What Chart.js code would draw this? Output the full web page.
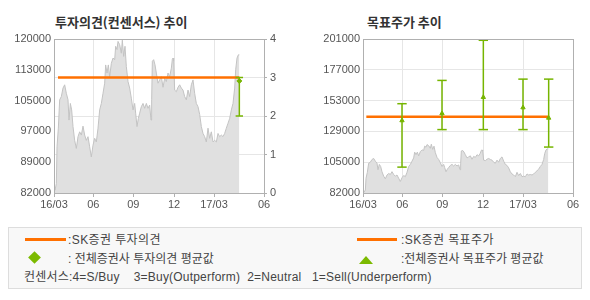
<!DOCTYPE html>
<html>
<head>
<meta charset="utf-8">
<script src="https://cdn.jsdelivr.net/npm/chart.js@4/dist/chart.umd.min.js"></script>
<style>
body { margin: 0; width: 590px; height: 300px; background: #fff; position: relative; overflow: hidden;
  font-family: "Liberation Sans", "Noto Sans CJK KR", sans-serif; }
.title { position: absolute; top: 12px; font: bold 13px "Noto Sans CJK KR", sans-serif; color: #333; white-space: nowrap; }
canvas { position: absolute; top: 0; }
#legend { position: absolute; left: 8px; top: 227px; width: 572px; height: 60px; background: #f8f8f8; border: 1px solid #ddd; }
#legend .t { position: absolute; font-size: 12px; line-height: 14px; color: #444; white-space: nowrap; }
#legend .ln { position: absolute; height: 3px; background: #ff7000; }
#legend .dia { position: absolute; width: 9px; height: 9px; background: #7cba00; transform: rotate(45deg); }
#legend .tri { position: absolute; width: 0; height: 0; border-left: 7px solid transparent; border-right: 7px solid transparent; border-bottom: 8px solid #7cba00; }
</style>
</head>
<body>
<div class="title" style="left:55px">투자의견(컨센서스) 추이</div>
<div class="title" style="left:367px">목표주가 추이</div>
<canvas id="opinion" width="295" height="215" style="left:0"></canvas>
<canvas id="target" width="295" height="215" style="left:295px"></canvas>
<div id="legend">
  <div class="ln" style="left:16px;top:10px;width:41px"></div>
  <div class="t" style="left:59px;top:5px;letter-spacing:0.4px">:SK증권 투자의견</div>
  <div class="ln" style="left:348px;top:10px;width:40px"></div>
  <div class="t" style="left:392px;top:5px;letter-spacing:0.4px">:SK증권 목표주가</div>
  <div class="dia" style="left:21px;top:25px"></div>
  <div class="t" style="left:59px;top:24px">: 전체증권사 투자의견 평균값</div>
  <div class="tri" style="left:350px;top:28px"></div>
  <div class="t" style="left:392px;top:24px">:전체증권사 목표주가 평균값</div>
  <div class="t" style="left:15px;top:42px;font-size:12px;letter-spacing:0.2px">컨센서스:4=S/Buy&nbsp;&nbsp;&nbsp;&nbsp;3=Buy(Outperform)&nbsp;&nbsp;2=Neutral&nbsp;&nbsp;&nbsp;1=Sell(Underperform)</div>
</div>
<script>
// x axis is in trading days from 16/03
const tickDays = [0, 59, 119, 180, 240, 315];
const tickLabels = ['16/03', '06', '09', '12', '17/03', '06'];

// share price (same series in both charts)
const priceDays = [0, 1.5, 3.5, 4.5, 6.5, 8.5, 11, 13.5, 16, 18.5, 21, 22.5, 24.5, 26.5, 28.5, 31, 33.5, 36, 38.5, 41,
  43.5, 46, 48.5, 51, 53.5, 56, 58.5, 61, 63.5, 66, 68.5, 71, 73.5, 76, 77.5, 79.5, 81.5, 83.5, 86, 88.5,
  91, 92.5, 94.5, 96, 98.5, 101, 102.5, 104.5, 106.5, 108.5, 111, 113.5, 116, 118.5, 121, 122.5, 124.5, 126.5, 128.5, 131,
  133.5, 136, 138.5, 141, 143.5, 145.5, 146.5, 147.5, 149.5, 151.5, 153.5, 156, 158.5, 161, 163.5, 166, 168.5, 171, 173.5, 176,
  177.5, 178.5, 179.5, 181, 183.5, 186, 188.5, 191, 193.5, 196, 198.5, 201, 203.5, 206, 208.5, 211, 213.5, 216, 218.5, 221,
  223.5, 226, 228.5, 231, 233.5, 236, 238.5, 241, 243.5, 246, 248.5, 251, 253.5, 256, 258.5, 261, 263.5, 266, 268.5, 271,
  272.5, 274.5, 276.5, 278];
const priceValues = [84700, 82700, 84300, 93400, 98000, 105000, 105800, 107900, 108700, 106600, 105000, 100000, 104100, 102500, 98400, 95000, 93000, 95900, 97100, 96300,
  98500, 96300, 95000, 95900, 93400, 90900, 93800, 95500, 94600, 98000, 102500, 104100, 106600, 109100, 113600, 111600, 113600, 110700, 114000, 115300,
  114900, 118200, 117400, 119400, 118600, 116500, 119700, 115700, 118200, 113200, 109500, 107900, 105400, 102500, 104100, 101700, 98400, 100400, 101700, 103300,
  104100, 102900, 104100, 102900, 103700, 100000, 105000, 114500, 114900, 113600, 111600, 109100, 109900, 110700, 108100, 110300, 109500, 111600, 110700, 112800,
  115000, 115300, 114500, 107400, 107000, 108100, 108700, 107900, 107400, 105800, 105000, 107400, 105800, 108700, 109900, 106600, 104100, 103300, 101400, 98400,
  96700, 95900, 94600, 98000, 95500, 97100, 94600, 95000, 94600, 96700, 95900, 96300, 95900, 96700, 98000, 99200, 100400, 102500, 104100, 107900,
  112400, 115300, 116100, 116100];

// investment opinion (right axis 0-4)
const skOpinionDays = [6, 278];
const skOpinion = [3, 3];
const consOpinionDay = 278;
const consOpinionHigh = 3;
const consOpinionLow = 2;
const consOpinionAvg = 2.91;

// target price
const skTargetDays = [5, 278.5];
const skTarget = [141000, 141000];
const consTargetDays = [58.5, 118.5, 180.5, 240, 278.5];
const consTargetHigh = [151000, 169000, 200000, 170000, 170000];
const consTargetLow = [102000, 131000, 131000, 131000, 117500];
const consTargetAvg = [138000, 143500, 156000, 148000, 140000];

// y axis ticks
const opinionPriceTicks = [82000, 89600, 97200, 104800, 112400, 120000];
const opinionPriceLabels = ['82000', '89000', '97000', '105000', '113000', '120000'];
const opinionTicks = [0, 1, 2, 3, 4];
const targetTicks = [82000, 105800, 129600, 153400, 177200, 201000];
const targetLabels = ['82000', '105000', '129000', '153000', '177000', '201000'];

const ORANGE = '#ff7000';
const GREEN = '#76b500';
const AXIS = '#b0b0b0';
const GRID = '#e6e6e6';

Chart.defaults.font.family = '"Liberation Sans", sans-serif';
Chart.defaults.font.size = 11;
Chart.defaults.color = '#555';

const frame = {
  id: 'frame',
  afterDatasetsDraw(chart) {
    const a = chart.chartArea, ctx = chart.ctx;
    ctx.save();
    ctx.strokeStyle = AXIS;
    ctx.lineWidth = 1;
    ctx.strokeRect(Math.round(a.left) + 0.5, Math.round(a.top) + 0.5, Math.round(a.right - a.left), Math.round(a.bottom - a.top));
    ctx.restore();
  }
};

const pts = (xs, ys) => xs.map((x, i) => ({ x, y: ys[i] }));

function priceSet(axis) {
  return {
    data: pts(priceDays, priceValues), yAxisID: axis,
    borderColor: '#c3c3c3', borderWidth: 1, backgroundColor: '#e0e0e0',
    fill: 'start', pointRadius: 0, tension: 0, order: 5
  };
}
function lineSet(xs, ys, axis) {
  return { data: pts(xs, ys), yAxisID: axis, borderColor: ORANGE, borderWidth: 2.5, pointRadius: 0, fill: false, order: 2 };
}
function barSet(x, lo, hi, axis, cap) {
  return {
    data: [{ x, y: lo }, { x, y: hi }], yAxisID: axis, borderColor: GREEN, borderWidth: 1.5,
    pointStyle: 'line', pointRadius: cap, pointBorderColor: GREEN, pointBorderWidth: 1.5, fill: false, order: 1
  };
}
function avgSet(xs, ys, axis, style, r) {
  return {
    type: 'scatter', data: pts(xs, ys), yAxisID: axis, pointStyle: style, pointRadius: r,
    backgroundColor: GREEN, borderColor: GREEN, borderWidth: 1, order: 0
  };
}

function xScale() {
  return {
    type: 'linear', min: 0, max: 315,
    afterBuildTicks: s => { s.ticks = tickDays.map(v => ({ value: v })); },
    afterFit: s => { s.height = 22; },
    ticks: { autoSkip: false, maxRotation: 0, padding: 1, callback: (v, i) => tickLabels[i] },
    grid: { color: GRID, tickColor: AXIS, tickLength: 4 },
    border: { color: AXIS }
  };
}

new Chart(document.getElementById('opinion'), {
  type: 'line',
  data: {
    datasets: [
      priceSet('y'),
      lineSet(skOpinionDays, skOpinion, 'y1'),
      barSet(consOpinionDay, consOpinionLow, consOpinionHigh, 'y1', 3.7),
      avgSet([consOpinionDay], [consOpinionAvg], 'y1', 'rectRot', 2.5)
    ]
  },
  options: {
    responsive: false, animation: false, devicePixelRatio: 1,
    layout: { padding: { top: 39 } },
    plugins: { legend: { display: false }, tooltip: { enabled: false } },
    scales: {
      x: xScale(),
      y: {
        position: 'left', min: 82000, max: 120000,
        afterBuildTicks: s => { s.ticks = opinionPriceTicks.map(v => ({ value: v })); },
        afterFit: s => { s.width = 54; },
        ticks: { padding: 3, callback: (v, i) => opinionPriceLabels[i] },
        grid: { drawOnChartArea: false, drawTicks: false },
        border: { color: AXIS }
      },
      y1: {
        position: 'right', min: 0, max: 4,
        afterBuildTicks: s => { s.ticks = opinionTicks.map(v => ({ value: v })); },
        afterFit: s => { s.width = 31; },
        ticks: { padding: 3 },
        grid: { color: GRID, tickColor: AXIS, tickLength: 3 },
        border: { color: AXIS }
      }
    }
  },
  plugins: [frame]
});

const targetSets = [priceSet('y'), lineSet(skTargetDays, skTarget, 'y')];
consTargetDays.forEach((d, i) => targetSets.push(barSet(d, consTargetLow[i], consTargetHigh[i], 'y', 4.7)));
targetSets.push(avgSet(consTargetDays, consTargetAvg, 'y', 'triangle', 2.5));

new Chart(document.getElementById('target'), {
  type: 'line',
  data: { datasets: targetSets },
  options: {
    responsive: false, animation: false, devicePixelRatio: 1,
    layout: { padding: { top: 39, right: 17 } },
    plugins: { legend: { display: false }, tooltip: { enabled: false } },
    scales: {
      x: xScale(),
      y: {
        position: 'left', min: 82000, max: 201000,
        afterBuildTicks: s => { s.ticks = targetTicks.map(v => ({ value: v })); },
        afterFit: s => { s.width = 68; },
        ticks: { padding: 3, callback: (v, i) => targetLabels[i] },
        grid: { color: GRID, drawTicks: false },
        border: { color: AXIS }
      }
    }
  },
  plugins: [frame]
});
</script>
</body>
</html>
